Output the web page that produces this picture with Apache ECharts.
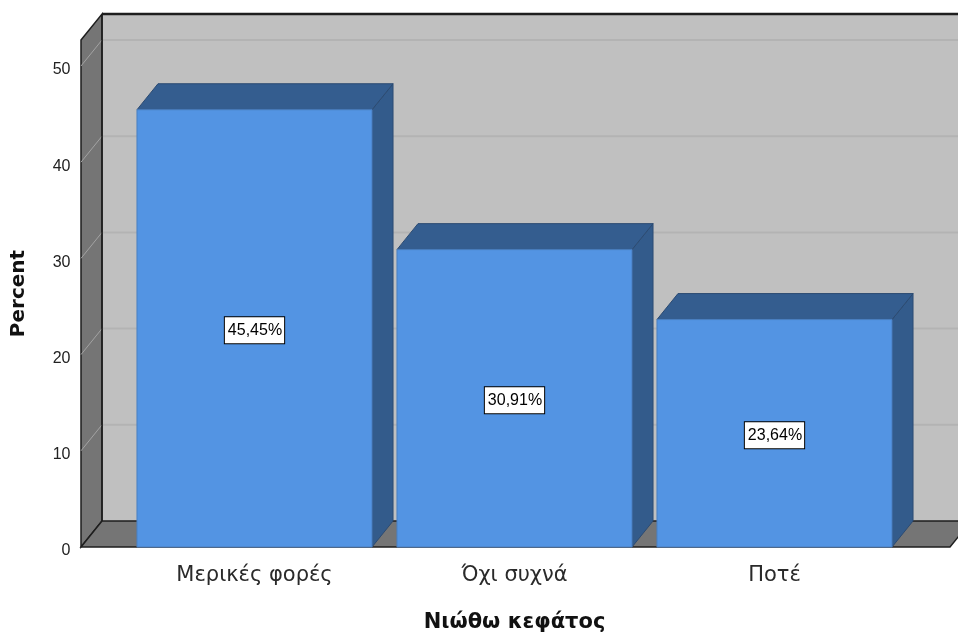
<!DOCTYPE html>
<html>
<head>
<meta charset="utf-8">
<title>Νιώθω κεφάτος</title>
<script src="https://cdn.jsdelivr.net/npm/echarts@6/dist/echarts.min.js"></script>
<style>
  html, body { margin: 0; padding: 0; background: #ffffff; }
  #chart { width: 958px; height: 633px; }
</style>
</head>
<body>
<div id="chart"></div>
<script>
// Chart data
const categories = ['Μερικές φορές', 'Όχι συχνά', 'Ποτέ'];
const percentValues = [45.45, 30.91, 23.64];
const yTicks = [0, 10, 20, 30, 40, 50];
const AXIS_MAX = 52.7;

// 3D look: depth offset of every box and wall
const DX = 21;
const DY = 26;

// Horizontal extent of the box frame (front plane)
const FRAME_LEFT = 81;
const FRAME_RIGHT = 950;

const COLORS = {
  backWall: '#c0c0c0',
  sideWall: '#757575',
  wallEdge: '#1e1e1e',
  backGrid: '#b3b3b3',
  sideGrid: '#a3a3a3',
  barFront: '#5394e3',
  barTop: '#345d8f',
  barSide: '#335b8b',
  barEdge: '#2c4b72'
};

function fmtPercent(v) {
  return v.toFixed(2).replace('.', ',') + '%';
}

// Walls, floor and grid lines of the chart box
function renderFrame(params, api) {
  const y0 = api.coord([0, 0])[1];
  const yTop = api.coord([0, AXIS_MAX])[1];
  const xl = FRAME_LEFT, xr = FRAME_RIGHT;
  const children = [];

  // back wall
  children.push({
    type: 'polygon',
    shape: { points: [[xl + DX, yTop - DY], [xr + DX + 40, yTop - DY], [xr + DX + 40, y0 - DY], [xl + DX, y0 - DY]] },
    style: { fill: COLORS.backWall, stroke: null }
  });
  // back wall grid lines
  yTicks.forEach(function (t) {
    if (t === 0) return;
    const y = api.coord([0, t])[1];
    children.push({
      type: 'line',
      shape: { x1: xl + DX, y1: y - DY, x2: xr + DX + 40, y2: y - DY },
      style: { stroke: COLORS.backGrid, lineWidth: 2 }
    });
  });
  // left wall
  children.push({
    type: 'polygon',
    shape: { points: [[xl, yTop], [xl + DX, yTop - DY], [xl + DX, y0 - DY], [xl, y0]] },
    style: { fill: COLORS.sideWall, stroke: COLORS.wallEdge, lineWidth: 1.5 }
  });
  // left wall grid lines
  yTicks.forEach(function (t) {
    if (t === 0) return;
    const y = api.coord([0, t])[1];
    children.push({
      type: 'line',
      shape: { x1: xl, y1: y, x2: xl + DX, y2: y - DY },
      style: { stroke: COLORS.sideGrid, lineWidth: 1 }
    });
  });
  // floor
  children.push({
    type: 'polygon',
    shape: { points: [[xl, y0], [xl + DX, y0 - DY], [xr + DX, y0 - DY], [xr, y0]] },
    style: { fill: COLORS.sideWall, stroke: COLORS.wallEdge, lineWidth: 1.5 }
  });
  // top edge of back wall
  children.push({
    type: 'line',
    shape: { x1: xl + DX, y1: yTop - DY, x2: xr + DX + 40, y2: yTop - DY },
    style: { stroke: COLORS.wallEdge, lineWidth: 2.5 }
  });
  // inner vertical edge between left wall and back wall
  children.push({
    type: 'line',
    shape: { x1: xl + DX, y1: yTop - DY, x2: xl + DX, y2: y0 - DY },
    style: { stroke: COLORS.wallEdge, lineWidth: 1.5 }
  });
  return { type: 'group', children: children };
}

// One 3D box per category
function renderBar(params, api) {
  const idx = api.value(0);
  const val = api.value(1);
  const top = api.coord([idx, val]);
  const base = api.coord([idx, 0]);
  const band = api.size([1, 0])[0];
  const w = band * 0.904;
  const x1 = top[0] - w / 2;
  const x2 = top[0] + w / 2;
  const yT = top[1];
  const yB = base[1];

  return {
    type: 'group',
    children: [
      {
        type: 'polygon',
        shape: { points: [[x2, yT], [x2 + DX, yT - DY], [x2 + DX, yB - DY], [x2, yB]] },
        style: { fill: COLORS.barSide, stroke: COLORS.barEdge, lineWidth: 1 }
      },
      {
        type: 'polygon',
        shape: { points: [[x1, yT], [x1 + DX, yT - DY], [x2 + DX, yT - DY], [x2, yT]] },
        style: { fill: COLORS.barTop, stroke: COLORS.barEdge, lineWidth: 1 }
      },
      {
        type: 'rect',
        shape: { x: x1, y: yT, width: w, height: yB - yT },
        style: { fill: COLORS.barFront, stroke: '#4a7fc0', lineWidth: 1 }
      },
      {
        type: 'text',
        x: top[0],
        y: (yT + yB) / 2 + 2,
        style: {
          text: fmtPercent(val),
          fill: '#000000',
          font: '16px "Liberation Sans", Arial, sans-serif',
          align: 'center',
          verticalAlign: 'middle',
          backgroundColor: '#ffffff',
          borderColor: '#000000',
          borderWidth: 1,
          padding: [6, 2, 4, 3]
        }
      }
    ]
  };
}

const chart = echarts.init(document.getElementById('chart'), null, { renderer: 'canvas' });

chart.setOption({
  animation: false,
  backgroundColor: '#ffffff',
  grid: {
    left: 124.5, right: 53.5, top: 40, bottom: 86,
    containLabel: false,
    outerBoundsMode: 'none'
  },
  xAxis: {
    type: 'category',
    data: categories,
    name: 'Νιώθω κεφάτος',
    nameLocation: 'middle',
    nameGap: 65,
    nameTextStyle: { fontFamily: 'DejaVu Sans', fontWeight: 'bold', fontSize: 21, color: '#111' },
    axisLine: { show: false },
    axisTick: { show: false },
    axisLabel: { margin: 18, fontFamily: 'DejaVu Sans', fontSize: 21, color: '#2a2a2a' },
    splitLine: { show: false }
  },
  yAxis: {
    type: 'value',
    min: 0,
    max: AXIS_MAX,
    interval: 10,
    name: 'Percent',
    nameLocation: 'middle',
    nameRotate: 90,
    nameGap: 96,
    nameTextStyle: { fontFamily: 'DejaVu Sans', fontWeight: 'bold', fontSize: 20, color: '#111' },
    axisLine: { show: false },
    axisTick: { show: false },
    splitLine: { show: false },
    axisLabel: {
      margin: 54,
      fontFamily: '"Liberation Sans", Arial, sans-serif',
      fontSize: 16,
      color: '#222',
      verticalAlign: 'top',
      lineHeight: 8,
      formatter: function (v) { return yTicks.indexOf(v) >= 0 ? String(v) : ''; }
    }
  },
  series: [
    {
      type: 'custom',
      name: 'frame',
      z: 1,
      clip: false,
      silent: true,
      renderItem: renderFrame,
      data: [[0, 0]]
    },
    {
      type: 'custom',
      name: 'Percent',
      z: 2,
      clip: false,
      renderItem: renderBar,
      encode: { x: 0, y: 1 },
      data: percentValues.map(function (v, i) { return [i, v]; })
    }
  ]
});
</script>
</body>
</html>
